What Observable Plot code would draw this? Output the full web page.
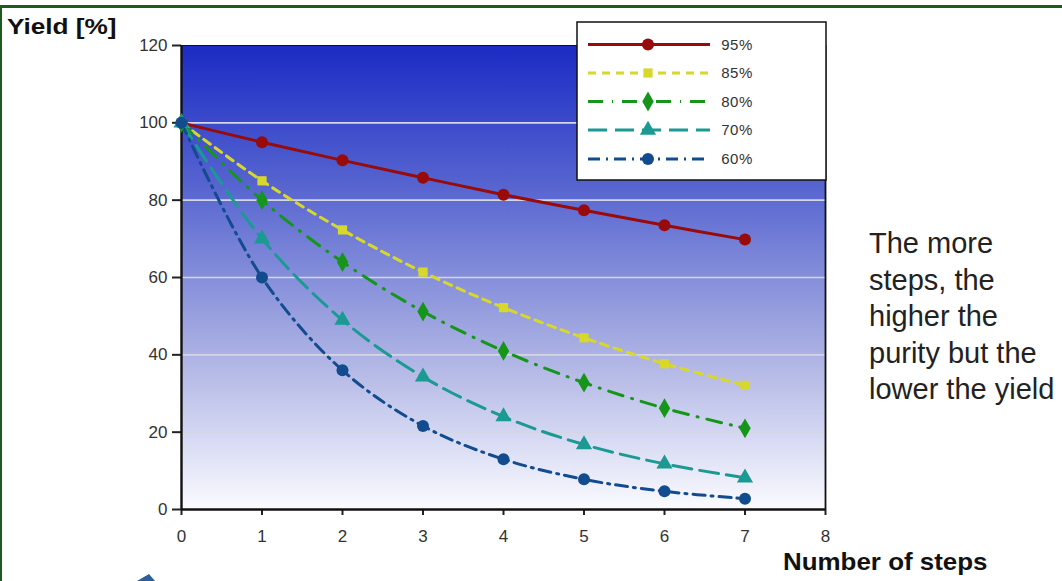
<!DOCTYPE html>
<html>
<head>
<meta charset="utf-8">
<script src="https://cdn.jsdelivr.net/npm/d3@7"></script>
<script src="https://cdn.jsdelivr.net/npm/@observablehq/plot@0.6"></script>
<style>
  html, body { margin: 0; padding: 0; background: #ffffff; }
  #wrap { position: relative; width: 1062px; height: 581px; overflow: hidden; font-family: "Liberation Sans", Arial, sans-serif; }
  #chart { position: absolute; left: 0; top: 0; }
  .bt { position: absolute; left: 0; top: 5px; width: 1062px; height: 3px; background: #1d5a1d; }
  .bl { position: absolute; left: 0; top: 5px; width: 2px; height: 576px; background: #1d5a1d; }
  .ylab { position: absolute; left: 7px; top: 14px; font-weight: bold; font-size: 22px; color: #111; transform: scaleX(1.19); transform-origin: left top; white-space: nowrap; }
  .xlab { position: absolute; left: 783px; top: 548px; font-weight: bold; font-size: 24px; color: #111; white-space: nowrap; transform: scaleX(1.08); transform-origin: left top; }
  .note { position: absolute; left: 869px; top: 225px; font-size: 29px; line-height: 36.5px; color: #222; white-space: nowrap; }
  #deco { position: absolute; left: 0; top: 0; }
</style>
</head>
<body>
<div id="wrap">
  <div id="chart"></div>
  <div class="bt"></div>
  <div class="bl"></div>
  <div class="ylab">Yield [%]</div>
  <div class="xlab">Number of steps</div>
  <div class="note">The more<br>steps, the<br>higher the<br>purity but the<br>lower the yield</div>
  <svg id="deco" width="1062" height="581"><polygon points="137,581 149,574 155,581" fill="#2e5f9a"></polygon></svg>
</div>
<script>
// ---- data ----
const steps = [0, 1, 2, 3, 4, 5, 6, 7];
const yield95 = [100, 95, 90.3, 85.8, 81.4, 77.4, 73.5, 69.8];
const yield85 = [100, 85, 72.3, 61.4, 52.2, 44.4, 37.7, 32.1];
const yield80 = [100, 80, 64, 51.2, 41, 32.8, 26.2, 21];
const yield70 = [100, 70, 49, 34.3, 24, 16.8, 11.8, 8.2];
const yield60 = [100, 60, 36, 21.6, 13, 7.8, 4.7, 2.8];
const seriesNames = ["95%", "85%", "80%", "70%", "60%"];
const xTicks = [0, 1, 2, 3, 4, 5, 6, 7, 8];
const yTicks = [0, 20, 40, 60, 80, 100, 120];

// ---- styles ----
const styles = [
  {values: yield95, color: "#990a0a", dash: null, symbol: "circle", r: 6},
  {values: yield85, color: "#d8d82a", dash: "8,6", symbol: "square", r: 5.2},
  {values: yield80, color: "#15961a", dash: "15,9,1,9", symbol: "diamond", r: 6},
  {values: yield70, color: "#1a9a92", dash: "19,8", symbol: "triangle", r: 6},
  {values: yield60, color: "#124b8e", dash: "12,6,2,6", symbol: "circle", r: 6}
];

const table = [];
seriesNames.forEach((name, i) => {
  steps.forEach((s, j) => table.push({series: name, step: s, y: styles[i].values[j]}));
});

const lineMarks = [];
const dotMarks = [];
seriesNames.forEach((name, i) => {
  const st = styles[i];
  const d = table.filter(t => t.series === name);
  lineMarks.push(Plot.line(d, {x: "step", y: "y", stroke: st.color, strokeWidth: 3,
    strokeDasharray: st.dash, curve: "catmull-rom"}));
  dotMarks.push(Plot.dot(d, {x: "step", y: "y", symbol: () => st.symbol, fill: st.color,
    stroke: "none", r: st.r}));
});

const plot = Plot.plot({
  width: 1062,
  height: 581,
  marginLeft: 181,
  marginRight: 237,
  marginTop: 45,
  marginBottom: 72,
  style: {fontFamily: "'Liberation Sans', Arial, sans-serif", fontSize: "17px", color: "#333", background: "transparent"},
  x: {domain: [0, 8], label: null},
  y: {domain: [0, 120], label: null},
  marks: [
    Plot.frame({fill: "url(#bgGrad)", stroke: "none"}),
    Plot.gridY([20, 40, 60, 80, 100], {stroke: "#d4d6e4", strokeOpacity: 1, strokeWidth: 1.6}),
    Plot.axisX(xTicks, {tickSize: 6, tickPadding: 14, fontSize: 17, stroke: "#222", strokeWidth: 2, fill: "#333"}),
    Plot.axisY(yTicks, {tickSize: 9, tickPadding: 5, fontSize: 17, stroke: "#222", strokeWidth: 2, fill: "#333"}),
    Plot.ruleX([0], {stroke: "#111", strokeWidth: 2.4}),
    Plot.ruleX([8], {stroke: "#111", strokeWidth: 1.8}),
    Plot.ruleY([0], {stroke: "#111", strokeWidth: 2.4}),
    Plot.ruleY([120], {stroke: "#111", strokeWidth: 1.2}),
    ...lineMarks,
    ...dotMarks
  ]
});

const svg = d3.select(plot);
svg.selectAll('g[aria-label$="tick label"] text').style("font-size", "17px");

// gradient background definition
const defs = svg.insert("defs", ":first-child");
const grad = defs.append("linearGradient").attr("id", "bgGrad")
  .attr("x1", 0).attr("y1", 0).attr("x2", 0).attr("y2", 1);
grad.append("stop").attr("offset", "0%").attr("stop-color", "#1b2bc4");
grad.append("stop").attr("offset", "30%").attr("stop-color", "#5664d0");
grad.append("stop").attr("offset", "65%").attr("stop-color", "#a8aee2");
grad.append("stop").attr("offset", "100%").attr("stop-color", "#fbfbff");

// legend built from the same series arrays
const lg = svg.append("g").attr("font-family", "'Liberation Sans', Arial, sans-serif");
lg.append("rect").attr("x", 577).attr("y", 22).attr("width", 249).attr("height", 158)
  .attr("fill", "#ffffff").attr("stroke", "#111").attr("stroke-width", 1.5);
const rowY = [44.5, 73, 101.5, 130, 159];
seriesNames.forEach((name, i) => {
  const st = styles[i];
  const g = lg.append("g").attr("transform", `translate(0,${rowY[i]})`);
  g.append("line").attr("x1", 588).attr("x2", 710).attr("y1", 0).attr("y2", 0)
    .attr("stroke", st.color).attr("stroke-width", 3)
    .attr("stroke-dasharray", st.dash);
  const sym = {circle: d3.symbolCircle, square: d3.symbolSquare, diamond: d3.symbolDiamond, triangle: d3.symbolTriangle}[st.symbol];
  g.append("path").attr("transform", "translate(648,0)")
    .attr("d", d3.symbol(sym, Math.PI * st.r * st.r)()).attr("fill", st.color);
  g.append("text").attr("x", 737).attr("y", 0).attr("dy", "0.35em")
    .attr("font-size", 15).attr("letter-spacing", "0.5px").attr("fill", "#333").text(name);
});

document.getElementById("chart").appendChild(plot);
</script>
</body>
</html>
